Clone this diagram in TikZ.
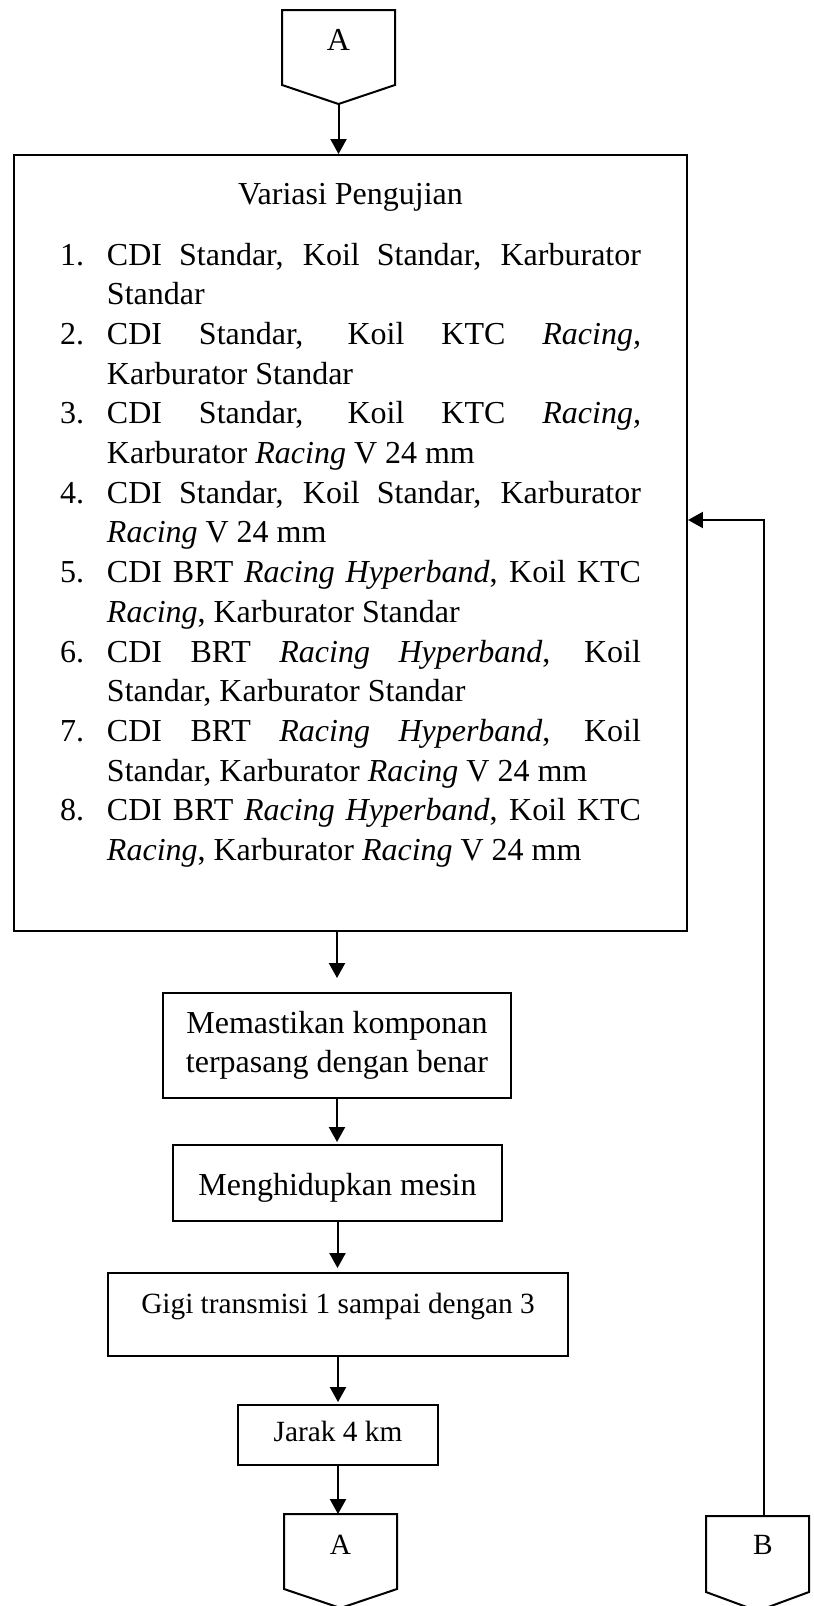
\documentclass[tikz,border=0pt]{standalone}
\usepackage{fontspec}
\setmainfont{Liberation Serif}
\usetikzlibrary{arrows.meta}
\newlength\pxu
\setlength\pxu{0.375pt}
\newcommand\itm[2]{\noindent\hangindent=47\pxu\hangafter=1\makebox[47\pxu][l]{#1}#2\par}
\begin{document}
\begin{tikzpicture}[x=0.375pt,y=-0.375pt,line width=0.75pt,
  box/.style={draw,rectangle,inner sep=0pt,font=\fontsize{12}{14.5}\selectfont},
  smallbox/.style={box,font=\fontsize{11}{13}\selectfont},
  label12/.style={inner sep=0pt,anchor=base,font=\fontsize{12}{14}\selectfont},
  label11/.style={inner sep=0pt,anchor=base,font=\fontsize{11}{13}\selectfont},
  arr/.style={-{Triangle[length=5.6pt,width=6pt]}}]
\useasboundingbox (0,0) rectangle (813,1606);

% top off-page connector A
\draw (282,10) -- (395,10) -- (395,85) -- (338.5,104) -- (282,85) -- cycle;
\coordinate (A1tip) at (338.5,104);
\node[label12] (A1) at (338.5,50) {A};

% big box
\node[draw,minimum width=673\pxu,minimum height=776\pxu,inner sep=0pt] (var) at (350.5,543) {};
\node[label12] (title) at (350.5,204) {Variasi Pengujian};
\node[inner sep=0pt,anchor=base west,font=\fontsize{12}{14.89}\selectfont] (items) at (59,265) {%
\parbox[t]{581\pxu}{\tolerance=10000\hbadness=10000\hyphenpenalty=10000\exhyphenpenalty=10000\parindent=0pt\parskip=0pt
\itm{1.}{CDI Standar, Koil Standar, Karburator\linebreak Standar}
\itm{2.}{CDI Standar, Koil KTC {\itshape Racing,}\linebreak Karburator Standar}
\itm{3.}{CDI Standar, Koil KTC {\itshape Racing,}\linebreak Karburator {\itshape Racing} V 24 mm}
\itm{4.}{CDI Standar, Koil Standar, Karburator\linebreak {\itshape Racing} V 24 mm}
\itm{5.}{CDI BRT {\itshape Racing Hyperband}, Koil KTC\linebreak {\itshape Racing}, Karburator Standar}
\itm{6.}{CDI BRT {\itshape Racing Hyperband}, Koil\linebreak Standar, Karburator Standar}
\itm{7.}{CDI BRT {\itshape Racing Hyperband}, Koil\linebreak Standar, Karburator {\itshape Racing} V 24 mm}
\itm{8.}{CDI BRT {\itshape Racing Hyperband}, Koil KTC\linebreak {\itshape Racing}, Karburator {\itshape Racing} V 24 mm}}};

% process boxes
\node[box,align=center,minimum width=348\pxu,minimum height=105\pxu] (mem) at (337,1045.5) {Memastikan komponan\\terpasang dengan benar};
\node[box,minimum width=329\pxu,minimum height=76\pxu,text height=30\pxu,text depth=6\pxu,anchor=base] (men) at (337.5,1195) {Menghidupkan mesin};
\node[smallbox,minimum width=460\pxu,minimum height=83\pxu,text height=20\pxu,text depth=23\pxu,anchor=base] (gigi) at (338,1313) {Gigi transmisi 1 sampai dengan 3};
\node[smallbox,minimum width=200\pxu,minimum height=60\pxu,text height=20\pxu,text depth=6.6\pxu,anchor=base] (jarak) at (338,1441.7) {Jarak 4 km};

% bottom off-page connector A
\draw (284,1514) -- (397,1514) -- (397,1589) -- (340.5,1608) -- (284,1589) -- cycle;
\coordinate (A2top) at (338,1514);
\node[label11] (A2) at (340.5,1554) {A};

% off-page connector B
\draw (706,1516) -- (809,1516) -- (809,1592) -- (757.5,1611) -- (706,1592) -- cycle;
\coordinate (Btop) at (764,1516);
\node[label11] (B) at (763,1554) {B};

% connectors
\draw[arr] (A1tip) -- (A1tip |- var.north);
\draw[arr,shorten >=14\pxu] (mem.north |- var.south) -- (mem.north);
\draw[arr,shorten >=2\pxu] (mem.south) -- (mem.south |- men.north);
\draw[arr,shorten >=4\pxu] (men.south) -- (men.south |- gigi.north);
\draw[arr,shorten >=2\pxu] (gigi.south) -- (jarak.north);
\draw[arr] (jarak.south) -- (A2top);
\coordinate (fb) at (0,520);
\draw[arr] (Btop) |- (var.east |- fb);
\end{tikzpicture}
\end{document}
